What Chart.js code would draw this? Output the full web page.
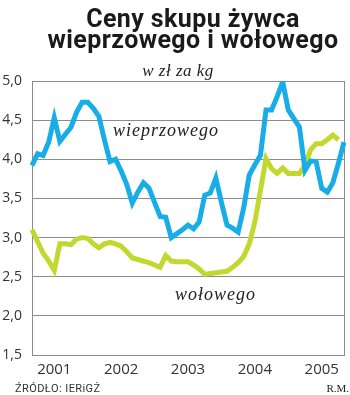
<!DOCTYPE html>
<html lang="pl">
<head>
<meta charset="utf-8">
<title>Ceny skupu żywca wieprzowego i wołowego</title>
<script src="https://cdn.jsdelivr.net/npm/chart.js@4.4.1/dist/chart.umd.min.js"></script>
<style>
  html, body { margin: 0; padding: 0; background: #fff; }
  #wrap { position: relative; width: 350px; height: 395px; overflow: hidden; }
  #chart { position: absolute; left: 0; top: 0; }
  .txt { position: absolute; white-space: nowrap; }
  .title { font-family: Roboto, sans-serif; font-weight: 700; font-size: 25px; line-height: 25px; color: #1a1a1a; left: 193px; transform: translateX(-50%); letter-spacing: 0.4px; }
  .serif { font-family: "Liberation Serif", serif; font-style: italic; color: #222; }
  .footer { font-family: Roboto, sans-serif; font-size: 11px; line-height: 11px; color: #333; letter-spacing: 0.4px; }
</style>
</head>
<body>
<div id="wrap">
  <canvas id="chart" width="350" height="395"></canvas>
  <div class="txt title" style="top:6px;">Ceny skupu żywca</div>
  <div class="txt title" style="top:27px;">wieprzowego i wołowego</div>
  <div class="txt serif" style="top:62px; left:178px; transform:translateX(-50%); font-size:17px; line-height:17px; letter-spacing:0.5px;">w zł za kg</div>
  <div class="txt serif" style="top:121px; left:113px; font-size:18px; line-height:18px; letter-spacing:1px;">wieprzowego</div>
  <div class="txt serif" style="top:285px; left:175px; font-size:18px; line-height:18px; letter-spacing:1px;">wołowego</div>
  <div class="txt footer" style="top:383px; left:15px;">ŹRÓDŁO: IERiGŻ</div>
  <div class="txt serif" style="top:383px; right:1px; font-size:11px; line-height:11px; font-style:normal;">R.M.</div>
</div>
<script>
// miesiące od 2000-09 do 2005-05
const months = [];
for (let i = 0; i < 57; i++) {
    const m = (8 + i) % 12 + 1;
    const y = 2000 + Math.floor((8 + i) / 12);
    months.push(`${y}-${String(m).padStart(2, '0')}`);
}

const yearTicks = ['2001', '2002', '2003', '2004', '2005'];

// ceny w zł za kg
const porkPrices = [
    3.92, 4.07, 4.05, 4.22, 4.53, 4.23, 4.32, 4.41, 4.60, 4.73,
    4.73, 4.65, 4.55, 4.25, 3.97, 4.00, 3.85, 3.68, 3.44, 3.58,
    3.70, 3.63, 3.45, 3.27, 3.26, 3.00, 3.05, 3.10, 3.16, 3.11,
    3.20, 3.54, 3.57, 3.76, 3.45, 3.16, 3.12, 3.07, 3.38, 3.80,
    3.93, 4.05, 4.63, 4.63, 4.80, 4.99, 4.63, 4.52, 4.41, 3.86,
    3.98, 3.97, 3.63, 3.58, 3.70, 3.95, 4.22
];

const beefPrices = [
    3.10, 2.95, 2.80, 2.70, 2.58, 2.92, 2.92, 2.91, 2.98, 3.00,
    2.99, 2.92, 2.87, 2.92, 2.94, 2.92, 2.89, 2.82, 2.74, 2.72,
    2.70, 2.68, 2.65, 2.62, 2.77, 2.70, 2.69, 2.69, 2.69, 2.65,
    2.60, 2.53, 2.54, 2.55, 2.56, 2.57, 2.62, 2.68, 2.76, 2.92,
    3.20, 3.60, 4.01, 3.88, 3.82, 3.89, 3.82, 3.82, 3.82, 3.92,
    4.12, 4.20, 4.20, 4.25, 4.31, 4.25, null
];

const gridColor = '#8c8c8c';

new Chart(document.getElementById('chart'), {
    type: 'line',
    data: {
        labels: months,
        datasets: [
            {
                label: 'wieprzowego',
                data: porkPrices,
                borderColor: '#18ade8',
                borderWidth: 5,
                pointRadius: 0,
                tension: 0,
                borderJoinStyle: 'miter'
            },
            {
                label: 'wołowego',
                data: beefPrices,
                borderColor: '#c2d82f',
                borderWidth: 5,
                pointRadius: 0,
                tension: 0,
                borderJoinStyle: 'miter'
            }
        ]
    },
    options: {
        responsive: false,
        animation: false,
        devicePixelRatio: 1,
        layout: { padding: { top: 81, right: 4, left: 0, bottom: 0 } },
        plugins: {
            legend: { display: false },
            tooltip: { enabled: false }
        },
        scales: {
            x: {
                grid: { display: false, drawTicks: false },
                border: { display: false },
                ticks: {
                    autoSkip: false,
                    maxRotation: 0,
                    padding: 6,
                    color: '#333',
                    font: { family: 'Open Sans', size: 15 },
                    callback: function(value, index) {
                        const label = months[index];
                        if (!label.endsWith('-01')) return '';
                        const year = label.slice(0, 4);
                        return yearTicks.includes(year) ? year : '';
                    }
                },
                afterFit: function(scale) { scale.height = 40; }
            },
            y: {
                min: 1.5,
                max: 5.0,
                grid: { color: gridColor, lineWidth: 1, drawTicks: false },
                border: { display: true, color: gridColor, width: 1 },
                ticks: {
                    stepSize: 0.5,
                    padding: 10,
                    color: '#333',
                    font: { family: 'Open Sans', size: 14 },
                    callback: function(value) {
                        return value.toFixed(1).replace('.', ',');
                    }
                },
                afterFit: function(scale) { scale.width = 32; }
            },
            yRight: {
                position: 'right',
                min: 1.5,
                max: 5.0,
                grid: { display: false, drawTicks: false },
                border: { display: true, color: gridColor, width: 1 },
                ticks: { display: false },
                afterFit: function(scale) { scale.width = 0; }
            }
        }
    }
});
</script>
</body>
</html>
